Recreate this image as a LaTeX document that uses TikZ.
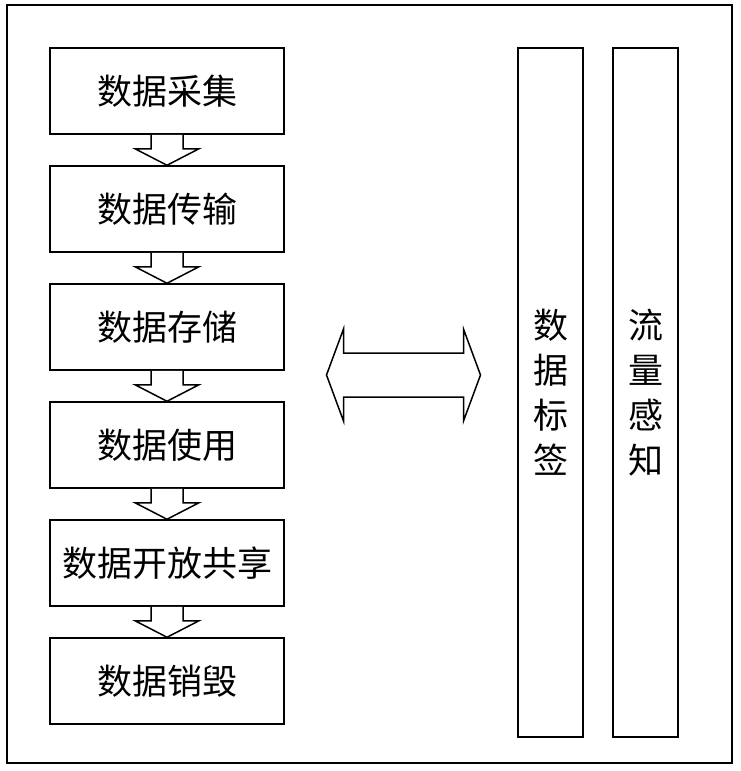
\documentclass[tikz,border=0pt]{standalone}
\usepackage{fontspec}
\newfontfamily\cjk{Noto Sans CJK SC}
\usepackage{tikz}
\usetikzlibrary{positioning,calc}

\begin{document}
\begin{tikzpicture}[
    x=1pt, y=-1pt,
    every node/.style = {font=\cjk\fontsize{35}{45}\selectfont},
    stage/.style = {rectangle, draw, line width=1.5pt, minimum width=234pt, minimum height=86pt, inner sep=0pt},
    tag/.style = {rectangle, draw, line width=1.5pt, minimum width=65pt, minimum height=689pt, align=center, inner sep=0pt},
    blockarrow/.style = {draw, line width=1.5pt, fill=white, line join=miter}
]
\useasboundingbox (0,0) rectangle (740,771);

% Outer frame
\draw[line width=1.2pt] (7,5) rectangle (732,763);

% Life cycle stages
\node[stage] (collect) at (167,91) {数据采集};
\node[stage, below=30.5pt of collect] (transfer) {数据传输};
\node[stage, below=30.5pt of transfer] (store) {数据存储};
\node[stage, below=30.5pt of store] (use) {数据使用};
\node[stage, below=30.5pt of use] (share) {数据开放共享};
\node[stage, below=30.5pt of share] (destroy) {数据销毁};

% Side columns
\node[tag] (label) at (550.5,392.5) {数\\据\\标\\签};
\node[tag] (flow) at (645.5,392.5) {流\\量\\感\\知};

% Block arrows between stages
\foreach \a/\b in {collect/transfer, transfer/store, store/use, use/share, share/destroy}
  \draw[blockarrow] ($(\a.south)+(-16,0)$) -- ++(0,14) -- ++(-16,0) -- (\b.north)
    -- ($(\a.south)+(32,14)$) -- ++(-16,0) -- ($(\a.south)+(16,0)$);

% Double arrow
\coordinate (link) at (403.5,375);
\draw[blockarrow] ($(link)+(-60,-22)$) -- ++(120,0) -- ++(0,-24) -- ++(17,46)
  -- ++(-17,46) -- ++(0,-24) -- ++(-120,0) -- ++(0,24) -- ++(-17,-46) -- ++(17,-46) -- cycle;

\end{tikzpicture}
\end{document}
